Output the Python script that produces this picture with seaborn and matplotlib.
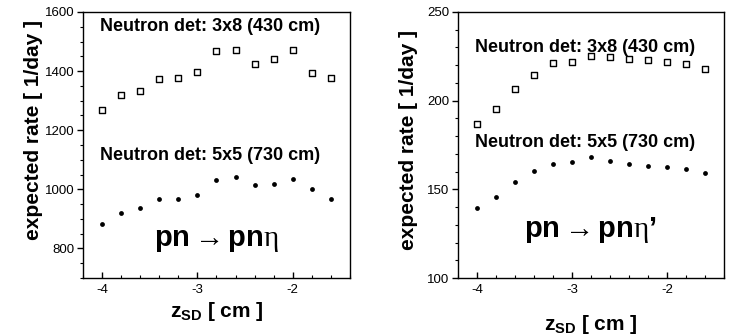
import matplotlib
matplotlib.use("Agg")
import matplotlib.pyplot as plt
from matplotlib.ticker import MultipleLocator
import seaborn as sns
import pandas as pd

z_sd = [-4.0, -3.8, -3.6, -3.4, -3.2, -3.0, -2.8, -2.6, -2.4, -2.2, -2.0, -1.8, -1.6]

eta_3x8 = [1269, 1319, 1334, 1374, 1377, 1397, 1469, 1473, 1425, 1440, 1470, 1393, 1377]
eta_5x5 = [884, 921, 936, 967, 968, 980, 1033, 1043, 1014, 1019, 1036, 1001, 968]

etap_3x8 = [186.9, 195.4, 206.3, 214.6, 221.2, 221.9, 225.3, 224.8, 223.4, 222.7, 221.8, 220.6, 217.6]
etap_5x5 = [139.5, 145.9, 154.1, 160.5, 164.3, 165.6, 168.5, 166.2, 164.3, 163.4, 162.4, 161.3, 159.0]

label_3x8 = "Neutron det: 3x8 (430 cm)"
label_5x5 = "Neutron det: 5x5 (730 cm)"
title_eta = r"pn$\rightarrow$pn$\eta$"
title_etap = r"pn$\rightarrow$pn$\eta$’"

sns.set_style("ticks")
plt.rcParams["font.family"] = ["Liberation Sans", "DejaVu Sans"]
plt.rcParams["mathtext.fontset"] = "custom"
plt.rcParams["mathtext.rm"] = "Liberation Sans:bold"
plt.rcParams["mathtext.bf"] = "Liberation Sans:bold"
plt.rcParams["mathtext.it"] = "Liberation Serif"
plt.rcParams["axes.unicode_minus"] = False
plt.rcParams["text.color"] = "black"
plt.rcParams["axes.labelcolor"] = "black"
plt.rcParams["xtick.color"] = "black"
plt.rcParams["ytick.color"] = "black"
plt.rcParams["axes.edgecolor"] = "black"

fig = plt.figure(figsize=(7.39, 3.36), dpi=100)
ax1 = fig.add_axes([0.1123, 0.1726, 0.3613, 0.7917])
ax2 = fig.add_axes([0.6198, 0.1726, 0.3600, 0.7917])

def panel(ax, top, bot, ylim, major, minor, ttl, pos):
    df = pd.DataFrame({"z": z_sd, "a": top, "b": bot})
    sns.scatterplot(data=df, x="z", y="a", ax=ax, marker="s", s=20,
                    facecolor="white", edgecolor="black", linewidth=1.0, zorder=3)
    sns.scatterplot(data=df, x="z", y="b", ax=ax, marker="o", s=12,
                    color="black", edgecolor="black", linewidth=0, zorder=3)
    ax.set_xlim(-4.2, -1.4)
    ax.set_ylim(*ylim)
    ax.xaxis.set_major_locator(MultipleLocator(1))
    ax.xaxis.set_minor_locator(MultipleLocator(0.2))
    ax.yaxis.set_major_locator(MultipleLocator(major))
    ax.yaxis.set_minor_locator(MultipleLocator(minor))
    ax.tick_params(axis="x", which="major", direction="in", length=4, width=1, labelsize=9.5, pad=4)
    ax.tick_params(axis="x", which="minor", direction="in", length=2, width=0.8)
    ax.tick_params(axis="y", which="major", direction="out", length=4, width=1, labelsize=9.5, pad=2)
    ax.tick_params(axis="y", which="minor", direction="out", length=2, width=0.8)
    for sp in ax.spines.values():
        sp.set_visible(True)
        sp.set_linewidth(1.0)
        sp.set_color("black")
    ax.set_xlabel(r"z$_{\mathrm{SD}}$ [ cm ]", fontsize=15, fontweight="bold")
    ax.set_ylabel("expected rate [ 1/day ]", fontsize=15, fontweight="bold")
    ax.yaxis.set_label_coords(-0.15, pos["ylab"])
    ax.xaxis.set_label_coords(0.5, pos["xlab"])
    ax.text(0.064, pos["t1"], label_3x8, transform=ax.transAxes, fontsize=13,
            fontweight="bold", va="center", ha="left")
    ax.text(0.064, pos["t2"], label_5x5, transform=ax.transAxes, fontsize=13,
            fontweight="bold", va="center", ha="left")
    ax.text(pos["tx"], pos["ty"], ttl, transform=ax.transAxes, fontsize=21,
            fontweight="bold", va="center", ha="center")

panel(ax1, eta_3x8, eta_5x5, (700, 1600), 200, 50, title_eta,
      {"ylab": 0.556, "xlab": -0.083, "t1": 0.944, "t2": 0.462, "tx": 0.5, "ty": 0.143})
panel(ax2, etap_3x8, etap_5x5, (100, 250), 50, 10, title_etap,
      {"ylab": 0.519, "xlab": -0.13, "t1": 0.868, "t2": 0.511, "tx": 0.496, "ty": 0.18})

fig.savefig("out.png", dpi=100)
